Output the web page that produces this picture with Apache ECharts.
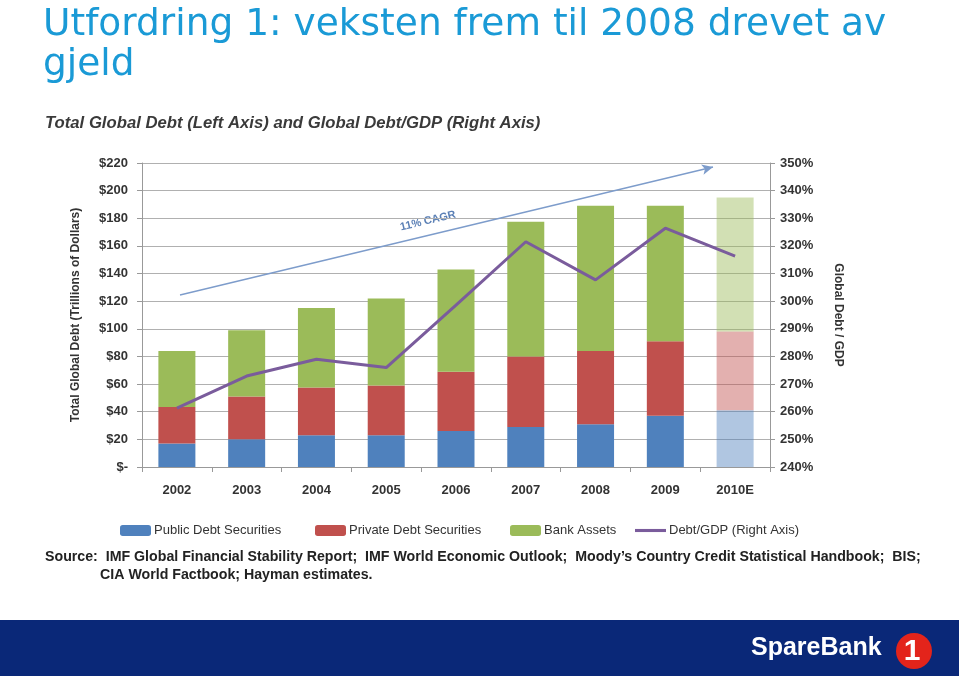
<!DOCTYPE html>
<html>
<head>
<meta charset="utf-8">
<script src="https://cdn.jsdelivr.net/npm/echarts@6/dist/echarts.min.js"></script>
<style>
  html, body { margin: 0; padding: 0; background: #fff; }
  #main { width: 959px; height: 676px; }
</style>
</head>
<body>
<div id="main"></div>
<script>
// data
var years = ['2002', '2003', '2004', '2005', '2006', '2007', '2008', '2009', '2010E'];
var publicDebt = [17, 20, 23, 23, 26, 29, 31, 37, 41];
var privateDebt = [26.5, 31, 34.5, 36, 43, 51, 53, 54, 57];
var bankAssets = [40.5, 48, 57.5, 63, 74, 97.5, 105, 98, 97];
var debtGdp = [261.3, 272.9, 279, 276, 298.6, 321.5, 307.7, 326.4, 316.3];

var seriesNames = ['Public Debt Securities', 'Private Debt Securities', 'Bank Assets', 'Debt/GDP (Right Axis)'];
var legendLeft = [115, 310, 505, 630];

var chart = echarts.init(document.getElementById('main'));

// last year is an estimate -> faded bars
function fade(arr) {
  return arr.map(function (v, i) {
    return i === arr.length - 1 ? { value: v, itemStyle: { opacity: 0.45 } } : v;
  });
}

var axisFont = { fontFamily: 'Liberation Sans', fontWeight: 'bold', fontSize: 13, color: '#333' };
var nameFont = { fontFamily: 'Liberation Sans', fontWeight: 'bold', fontSize: 12, color: '#333' };

// one legend per item so each sits where the original puts it
var legends = seriesNames.map(function (n, i) {
  var item = { name: n };
  if (i === 3) item.icon = 'path://M0,0H30V3H0Z';
  return {
    left: legendLeft[i],
    top: 519,
    itemWidth: 31,
    itemHeight: 11,
    itemGap: 4,
    textStyle: { fontFamily: 'Liberation Sans', fontSize: 13, color: '#333', padding: [0, 0, 0, -2] },
    data: [item]
  };
});

var option = {
  animation: false,
  backgroundColor: '#fff',
  grid: { left: 142, right: 189, top: 163, bottom: 209 },
  legend: legends,
  xAxis: {
    type: 'category',
    data: years,
    axisLine: { lineStyle: { color: '#999' } },
    axisTick: { show: true, alignWithLabel: false, length: 5, lineStyle: { color: '#999' } },
    axisLabel: Object.assign({ margin: 17 }, axisFont)
  },
  yAxis: [{
    type: 'value',
    min: 0, max: 220, interval: 20,
    name: 'Total Global Debt (Trillions of Dollars)',
    nameLocation: 'middle',
    nameRotate: 90,
    nameGap: 60,
    nameTextStyle: nameFont,
    axisLine: { show: true, lineStyle: { color: '#999' } },
    axisTick: { show: true, length: 5, lineStyle: { color: '#999' } },
    axisLabel: Object.assign({
      margin: 14,
      formatter: function (v) { return v === 0 ? '$-' : '$' + v; }
    }, axisFont),
    splitLine: { lineStyle: { color: '#b0b0b0' } }
  }, {
    type: 'value',
    min: 240, max: 350, interval: 10,
    name: 'Global Debt / GDP',
    nameLocation: 'middle',
    nameRotate: -90,
    nameGap: 62,
    nameTextStyle: nameFont,
    axisLine: { show: true, lineStyle: { color: '#999' } },
    axisTick: { show: true, length: 5, lineStyle: { color: '#999' } },
    axisLabel: Object.assign({ margin: 10, formatter: '{value}%' }, axisFont),
    splitLine: { show: false }
  }],
  series: [{
    name: seriesNames[0],
    type: 'bar',
    stack: 'debt',
    barWidth: 37,
    itemStyle: { color: '#4f81bd' },
    data: fade(publicDebt),
    markLine: {
      silent: true,
      symbol: ['none', 'arrow'],
      symbolSize: [8, 11],
      label: { show: false },
      lineStyle: { color: '#7d9ccb', width: 1.3, type: 'solid' },
      data: [[{ x: 180, y: 295 }, { x: 713, y: 167 }]]
    }
  }, {
    name: seriesNames[1],
    type: 'bar',
    stack: 'debt',
    barWidth: 37,
    itemStyle: { color: '#c0504d' },
    data: fade(privateDebt)
  }, {
    name: seriesNames[2],
    type: 'bar',
    stack: 'debt',
    barWidth: 37,
    itemStyle: { color: '#9bbb59' },
    data: fade(bankAssets)
  }, {
    name: seriesNames[3],
    type: 'line',
    yAxisIndex: 1,
    symbol: 'none',
    lineStyle: { color: '#7a5c9c', width: 3 },
    itemStyle: { color: '#7a5c9c' },
    data: debtGdp,
    z: 5
  }],
  graphic: [
    { type: 'text', left: 43, top: 6, style: { text: 'Utfordring 1: veksten frem til 2008 drevet av', font: '37.5px "DejaVu Sans"', fill: '#1a9ad6' } },
    { type: 'text', left: 43, top: 46, style: { text: 'gjeld', font: '37.5px "DejaVu Sans"', fill: '#1a9ad6' } },
    { type: 'text', left: 45, top: 115, style: { text: 'Total Global Debt (Left Axis) and Global Debt/GDP (Right Axis)', font: 'italic bold 16.7px "Liberation Sans"', fill: '#3a3a3a' } },
    { type: 'text', x: 428, y: 221, rotation: 0.236, style: { text: '11% CAGR', font: 'bold 11px "Liberation Sans"', fill: '#5a7fb5', align: 'center', verticalAlign: 'middle' } },
    { type: 'text', left: 45, top: 550, style: { text: 'Source:  IMF Global Financial Stability Report;  IMF World Economic Outlook;  Moody\u2019s Country Credit Statistical Handbook;  BIS;', font: 'bold 14.2px "Liberation Sans"', fill: '#222' } },
    { type: 'text', left: 100, top: 568, style: { text: 'CIA World Factbook; Hayman estimates.', font: 'bold 14.2px "Liberation Sans"', fill: '#222' } },
    { type: 'rect', shape: { x: 0, y: 620, width: 959, height: 56 }, style: { fill: '#0a2878' } },
    { type: 'text', left: 751, top: 636, style: { text: 'SpareBank', font: 'bold 25px "Liberation Sans"', fill: '#fff' } },
    { type: 'circle', shape: { cx: 914, cy: 651, r: 18 }, style: { fill: '#e3241b' } },
    { type: 'text', x: 912, y: 652, style: { text: '1', font: 'bold 30px "Liberation Sans"', fill: '#fff', align: 'center', verticalAlign: 'middle' } }
  ]
};

chart.setOption(option);
</script>
</body>
</html>
